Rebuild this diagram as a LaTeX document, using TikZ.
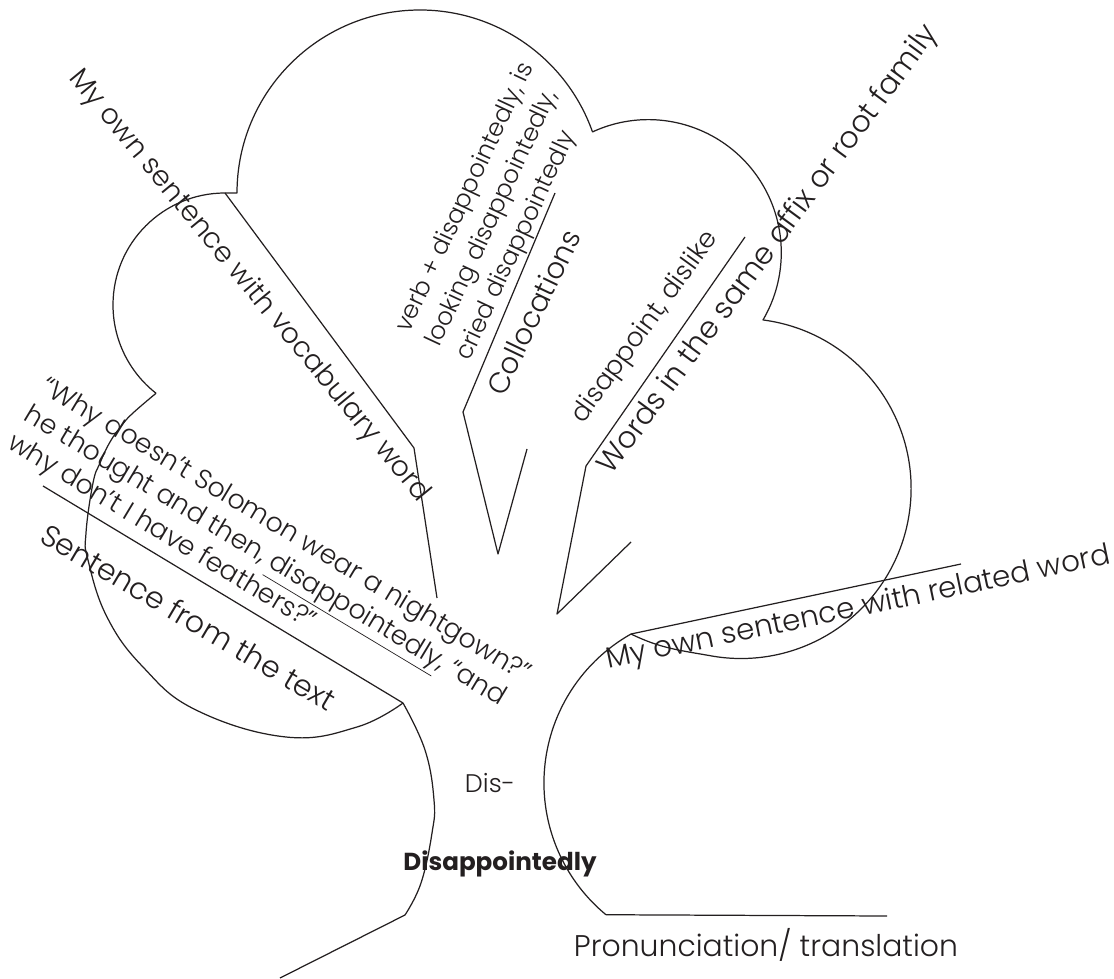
\documentclass[tikz,border=0pt]{standalone}
\usepackage{fontspec}
\setmainfont{Poppins}[UprightFont={* Light},BoldFont={* Bold}]
\definecolor{ink}{HTML}{231F20}
\tikzset{
  treeline/.style={draw=ink, line width=0.7pt, line join=round},
  lbl/.style={text=ink, inner sep=0pt, font=\fontsize{17}{20}\selectfont,
    text height=0.75em, text depth=0.25em},
  note/.style={text=ink, inner sep=0pt, align=left},
}
\begin{document}
\begin{tikzpicture}[x=0.02cm,y=0.02cm]
  \useasboundingbox (0,0) rectangle (1114,978);

  % branch points
  \coordinate (tl)    at (225,785);
  \coordinate (tt)    at (237,785);
  \coordinate (jr)    at (631,344);
  \coordinate (trunk) at (403,275);
  \coordinate (foot)  at (405,63);
  \coordinate (root)  at (280,0);

  % crown: top lobe, upper right lobe, big right lobe
  \draw[treeline] (tl) -- (tt) arc[start angle=180,end angle=19.5,radius=183]
    arc[start angle=114.8,end angle=-30.4,radius=133] coordinate (notch)
    arc[start angle=82.6,end angle=-100,radius=170] to[out=170,in=-26] (jr);
  % left lobes
  \draw[treeline] (tl) arc[start angle=90,end angle=232,radius=112] coordinate (ll);
  \draw[treeline] plot[smooth,tension=0.7] coordinates {(ll) (133,565) (122,553)
    (110,536) (100,515) (93,495) (86,445) (88,418) (107,361) (143,311)
    (196,268) (286,241) (357,251) (trunk)};
  % trunk and root
  \draw[treeline] plot[smooth,tension=0.7] coordinates {(trunk) (425,228) (434,178)
    (432,145) (421,95) (foot)};
  \draw[treeline] (foot) -- (root);
  % lower right lobe
  \draw[treeline] (jr) arc[start angle=119.4,end angle=230.4,radius=171] coordinate (lr);

  % label lines
  \coordinate (v1) at (414,530);  \coordinate (v2) at (437,380);
  \coordinate (s1) at (43,492);
  \coordinate (c0) at (555,785);  \coordinate (c1) at (463,566);
  \coordinate (c2) at (498,424);  \coordinate (c3) at (527,529);
  \coordinate (f0) at (745,741);  \coordinate (f1) at (586,512);
  \coordinate (f2) at (557,364);  \coordinate (f3) at (631,436);
  \coordinate (r1) at (961,414);
  \coordinate (p1) at (887,62);
  \draw[treeline] (tl) -- (v1) -- (v2);
  \draw[treeline] (c0) -- (c1) -- (c2) -- (c3);
  \draw[treeline] (f0) -- (f1) -- (f2) -- (f3);
  \foreach \a/\b in {trunk/s1, jr/r1, lr/p1}
    \draw[treeline] (\a) -- (\b);

  % labels
  \node[lbl, rotate=-50.5, font=\fontsize{16}{19}\selectfont] (vocab) at (247,690)
    {My own sentence with vocabulary word};
  \node[lbl, rotate=-30.6] (sent)    at (185,355)   {Sentence from the text};
  \node[lbl, rotate=64.4, font=\fontsize{16.5}{19}\selectfont] (coll) at (539,663)
    {Collocations};
  \node[lbl, rotate=53.6]  (family)  at (771.5,726) {Words in the same affix or root family};
  \node[lbl, rotate=11.8, font=\fontsize{16.7}{19}\selectfont] (related) at (859,366)
    {My own sentence with related word};
  \node[lbl, anchor=base]  (pron)    at (766,22)    {Pronunciation/ translation};

  % answers
  \node[lbl, rotate=54, font=\fontsize{15}{18}\selectfont] (words) at (647.5,649.5)
    {disappoint, dislike};
  \node[note, rotate=65, anchor=north west, font=\fontsize{14}{19}\selectfont]
    (colls) at (392,652)
    {verb + disappointedly, is\\looking disappointedly,\\cried disappointedly};
  \node[note, rotate=-31, anchor=north west, font=\fontsize{15.2}{18.6}\selectfont]
    (quote) at (50,604)
    {“Why doesn’t Solomon wear a nightgown?”\\he thought and then,
     \underline{disappointedly}, “and\\why don’t I have feathers?”};
  \node[lbl, font=\fontsize{14.5}{17}\selectfont] (dis) at (490,190) {Dis-};
  \node[lbl, font=\fontsize{14}{17}\selectfont\bfseries] (word) at (500,112)
    {Disappointedly};
\end{tikzpicture}
\end{document}
